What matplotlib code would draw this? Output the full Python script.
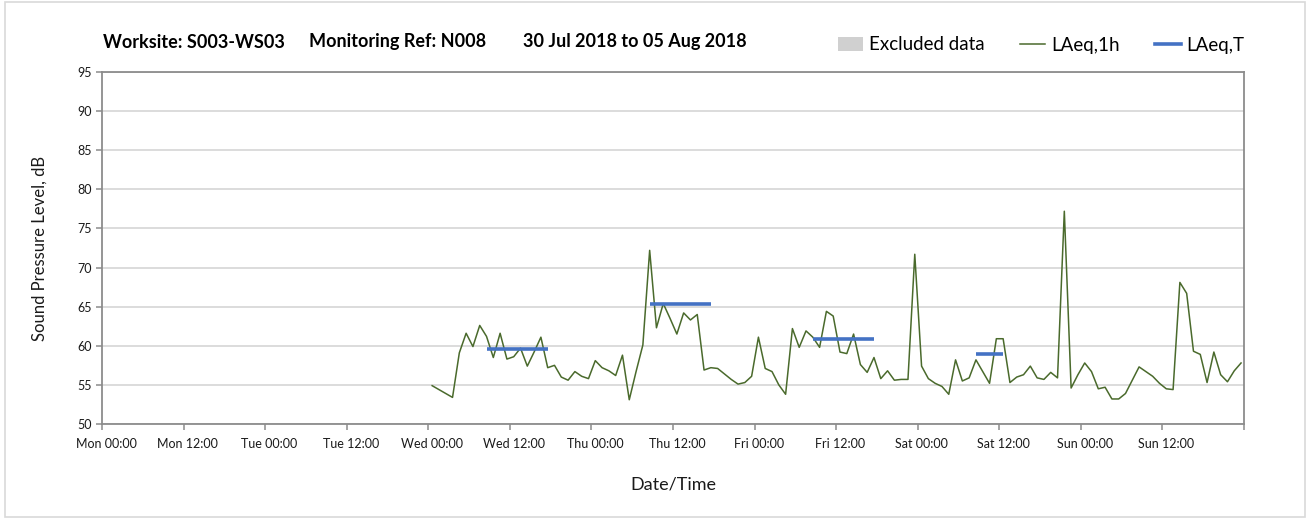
# Niveles de presion sonora horarios (LAeq,1h) y por periodo (LAeq,T)
import matplotlib.pyplot as plt
import matplotlib.dates as mdates
import matplotlib.transforms as mtransforms
from matplotlib.patches import Patch, Rectangle
from matplotlib.lines import Line2D
import pandas as pd

plt.rcParams['font.family'] = ['Lato', 'DejaVu Sans']

# Datos
titulo_obra = 'Worksite: S003-WS03'
titulo_ref = 'Monitoring Ref: N008'
titulo_fechas = '30 Jul 2018 to 05 Aug 2018'

inicio_eje = pd.Timestamp('2018-07-30 00:00')
fin_eje = pd.Timestamp('2018-08-06 00:00')
inicio_datos = '2018-08-01 00:00'
desfase = pd.Timedelta(minutes=34)

laeq_1h = [
    54.9, 54.4, 53.9, 53.4, 59.1, 61.6, 59.9, 62.6, 61.2, 58.5, 61.6, 58.3,
    58.6, 59.7, 57.4, 59.2, 61.1, 57.2, 57.5, 56.0, 55.6, 56.7, 56.1, 55.8,
    58.1, 57.2, 56.8, 56.2, 58.8, 53.1, 56.7, 60.1, 72.2, 62.3, 65.4, 63.5,
    61.5, 64.2, 63.3, 64.0, 56.9, 57.2, 57.1, 56.4, 55.7, 55.1, 55.3, 56.1,
    61.1, 57.1, 56.7, 55.0, 53.8, 62.2, 59.8, 61.9, 61.1, 59.8, 64.4, 63.8,
    59.2, 59.0, 61.5, 57.6, 56.6, 58.5, 55.8, 56.8, 55.6, 55.7, 55.7, 71.7,
    57.4, 55.8, 55.2, 54.8, 53.8, 58.2, 55.5, 55.9, 58.2, 56.7, 55.2, 60.9,
    60.9, 55.3, 56.0, 56.3, 57.4, 55.9, 55.7, 56.6, 55.9, 77.2, 54.6, 56.3,
    57.8, 56.7, 54.5, 54.7, 53.2, 53.2, 53.9, 55.6, 57.3, 56.7, 56.1, 55.2,
    54.5, 54.4, 68.1, 66.7, 59.3, 58.9, 55.3, 59.2, 56.3, 55.4, 56.8, 57.8,
]

periodo_inicio = ['2018-08-01 08:00', '2018-08-02 08:00', '2018-08-03 08:00', '2018-08-04 08:00']
periodo_fin = ['2018-08-01 17:00', '2018-08-02 17:00', '2018-08-03 17:00', '2018-08-04 12:00']
laeq_t = [59.6, 65.3, 60.9, 59.0]

horas = pd.date_range(inicio_datos, periods=len(laeq_1h), freq='h') + desfase
marcas_x = pd.date_range(inicio_eje, fin_eje, freq='12h')
etiquetas_x = [t.strftime('%a %H:%M') for t in marcas_x[:-1]] + ['']

# Figura
fig = plt.figure(figsize=(13.09, 5.2), dpi=100)
fig.patches.append(Rectangle((0.004, 0.006), 0.993, 0.99, transform=fig.transFigure,
                             fill=False, edgecolor='#d9d9d9', linewidth=1.2))
ax = fig.add_axes([102 / 1309, 1 - 424 / 520, 1142 / 1309, 352 / 520])

ax.plot(horas, laeq_1h, color='#4a6a2c', linewidth=1.1)
for ini, fin, valor in zip(periodo_inicio, periodo_fin, laeq_t):
    ax.hlines(valor, pd.Timestamp(ini) + desfase, pd.Timestamp(fin) + desfase,
              color='#4472c4', linewidth=2.6)

ax.set_xlim(inicio_eje, fin_eje)
ax.set_ylim(50, 95)
ax.set_yticks(range(50, 96, 5))

ax.set_xticks(marcas_x)
ax.set_xticklabels(etiquetas_x)
ax.xaxis.set_minor_locator(mdates.HourLocator(byhour=[0]))

ax.grid(axis='y', color='#d9d9d9', linewidth=1.3)
ax.grid(axis='x', which='minor', color='#d9d9d9', linewidth=1.3)
ax.set_axisbelow(True)

for lado in ['left', 'right', 'top', 'bottom']:
    ax.spines[lado].set_color('#8c8c8c')
    ax.spines[lado].set_linewidth(1.3)

ax.tick_params(axis='both', which='major', length=4, width=1.1, color='#8c8c8c',
               labelsize=9, labelcolor='#1a1a1a')
ax.tick_params(axis='x', which='major', pad=6)
ax.tick_params(axis='x', which='minor', length=0)

desplazar = mtransforms.ScaledTranslation(4 / 100, 0, fig.dpi_scale_trans)
for etiqueta in ax.get_xticklabels():
    etiqueta.set_transform(etiqueta.get_transform() + desplazar)

ax.set_ylabel('Sound Pressure Level, dB', fontsize=12, labelpad=21, color='#1a1a1a')
ax.set_xlabel('Date/Time', fontsize=13, labelpad=19, color='#1a1a1a')

# Titulo en tres partes
y_tit = 1 - 42 / 520
fig.text(103 / 1309, y_tit, titulo_obra, fontsize=13, fontweight='bold', va='center')
fig.text(309 / 1309, y_tit, titulo_ref, fontsize=13, fontweight='bold', va='center')
fig.text(523 / 1309, y_tit, titulo_fechas, fontsize=13, fontweight='bold', va='center')

# Leyenda
manejadores = [
    Patch(facecolor='#d0d0d0', edgecolor='none', label='Excluded data'),
    Line2D([], [], color='#4a6a2c', linewidth=1.1, label='LAeq,1h'),
    Line2D([], [], color='#4472c4', linewidth=2.6, label='LAeq,T'),
]
fig.legend(handles=manejadores, ncol=3, frameon=False, fontsize=13.5,
           loc='center right', bbox_to_anchor=(1261 / 1309, 1 - 45 / 520),
           handlelength=1.35, handletextpad=0.3, columnspacing=1.9)

fig.savefig('out.png', dpi=100)
